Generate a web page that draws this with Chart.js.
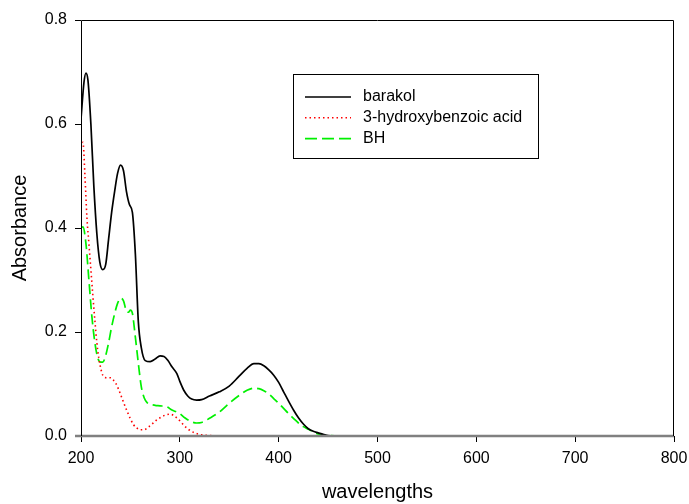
<!DOCTYPE html>
<html>
<head>
<meta charset="utf-8">
<script src="https://cdn.jsdelivr.net/npm/chart.js@4/dist/chart.umd.min.js"></script>
<style>
    html, body { margin: 0; padding: 0; background: #fff; }
    #wrap { width: 689px; height: 504px; position: relative; }
</style>
</head>
<body>
<div id="wrap"><canvas id="chart"></canvas></div>
<script>
// Spectra (wavelength in nm, absorbance)
const barakolNm = [200, 203, 205, 207, 210, 213, 216, 219, 222, 225, 228, 231, 234, 237, 240, 243, 246, 249, 252, 255, 258, 261, 265, 270, 275, 280, 284, 288, 292, 297, 300, 304, 308, 312, 317, 322, 330, 340, 350, 360, 368, 375, 380, 385, 390, 395, 400, 405, 410, 415, 420, 425, 430, 435, 440, 445, 450, 460, 500, 600, 700, 800];
const barakolAbs = [0.61, 0.68, 0.698, 0.685, 0.60, 0.48, 0.39, 0.335, 0.32, 0.33, 0.38, 0.43, 0.47, 0.505, 0.521, 0.51, 0.47, 0.445, 0.43, 0.35, 0.22, 0.17, 0.145, 0.143, 0.148, 0.154, 0.153, 0.145, 0.133, 0.12, 0.105, 0.088, 0.077, 0.071, 0.069, 0.070, 0.077, 0.085, 0.096, 0.115, 0.13, 0.139, 0.139, 0.135, 0.127, 0.117, 0.103, 0.085, 0.067, 0.05, 0.035, 0.023, 0.014, 0.009, 0.006, 0.003, 0.001, 0, 0, 0, 0, 0];

const acidNm = [200, 202, 204, 206, 208, 210, 212, 214, 216, 218, 220, 222, 226, 230, 233, 235, 238, 241, 244, 247, 250, 253, 256, 260, 264, 268, 272, 276, 280, 285, 290, 294, 298, 302, 306, 310, 315, 320, 330, 340, 500, 600, 700, 800];
const acidAbs = [0.555, 0.565, 0.50, 0.42, 0.37, 0.32, 0.27, 0.223, 0.18, 0.15, 0.13, 0.117, 0.112, 0.112, 0.107, 0.102, 0.09, 0.075, 0.06, 0.046, 0.033, 0.022, 0.016, 0.012, 0.012, 0.017, 0.023, 0.03, 0.035, 0.04, 0.042, 0.039, 0.033, 0.025, 0.017, 0.011, 0.006, 0.003, 0.001, 0, 0, 0, 0, 0];

const bhNm = [200, 202, 205, 208, 211, 214, 217, 220, 222, 225, 228, 231, 234, 237, 240, 243, 246, 248, 250, 252, 255, 258, 261, 264, 267, 270, 275, 280, 287, 292, 297, 300, 305, 310, 317, 322, 330, 340, 350, 360, 368, 375, 380, 385, 390, 395, 400, 405, 410, 415, 420, 425, 430, 435, 440, 445, 450, 460, 500, 600, 700, 800];
const bhAbs = [0.40, 0.402, 0.37, 0.30, 0.23, 0.18, 0.15, 0.142, 0.142, 0.155, 0.18, 0.21, 0.235, 0.255, 0.265, 0.26, 0.24, 0.238, 0.242, 0.236, 0.19, 0.14, 0.095, 0.073, 0.064, 0.061, 0.059, 0.058, 0.056, 0.05, 0.046, 0.043, 0.035, 0.029, 0.025, 0.026, 0.034, 0.046, 0.063, 0.078, 0.088, 0.092, 0.091, 0.087, 0.081, 0.072, 0.063, 0.053, 0.043, 0.034, 0.025, 0.018, 0.013, 0.008, 0.004, 0.002, 0.001, 0, 0, 0, 0, 0];

const seriesNames = ['barakol', '3-hydroxybenzoic acid', 'BH'];
const xTicks = [200, 300, 400, 500, 600, 700, 800];
const yTicks = [0.0, 0.2, 0.4, 0.6, 0.8];

const FONT = 'Arial, "Liberation Sans", sans-serif';

function toPoints(xs, ys) {
    return xs.map((x, i) => ({ x: x, y: ys[i] }));
}

// Frame, grey zero line and boxed legend drawn over the data
const framePlugin = {
    id: 'frame',
    afterDatasetsDraw(chart) {
        const { ctx, chartArea: a } = chart;
        ctx.save();
        // grey zero line
        ctx.strokeStyle = '#808080';
        ctx.lineWidth = 2.5;
        ctx.beginPath();
        ctx.moveTo(a.left - 6, a.bottom);
        ctx.lineTo(a.right, a.bottom);
        ctx.stroke();
        // black frame (left, top, right)
        ctx.strokeStyle = '#000';
        ctx.lineWidth = 1;
        ctx.beginPath();
        ctx.moveTo(a.left + 0.5, a.bottom);
        ctx.lineTo(a.left + 0.5, a.top + 0.5);
        ctx.lineTo(a.right - 0.5, a.top + 0.5);
        ctx.lineTo(a.right - 0.5, a.bottom);
        ctx.stroke();

        // legend box
        const bx = 293, by = 74, bw = 245, bh = 84;
        ctx.strokeStyle = '#000';
        ctx.lineWidth = 1;
        ctx.strokeRect(bx + 0.5, by + 0.5, bw, bh);
        ctx.font = '16px ' + FONT;
        ctx.textBaseline = 'middle';
        ctx.fillStyle = '#000';
        chart.data.datasets.forEach((ds, i) => {
            const yy = by + 23 + i * 20.8;
            ctx.strokeStyle = ds.borderColor;
            ctx.lineWidth = ds.borderWidth;
            ctx.setLineDash(ds.legendDash || ds.borderDash || []);
            ctx.beginPath();
            ctx.moveTo(305, yy);
            ctx.lineTo(351, yy);
            ctx.stroke();
            ctx.setLineDash([]);
            ctx.fillText(ds.label, 363, yy);
        });
        ctx.restore();
    }
};

new Chart(document.getElementById('chart'), {
    type: 'line',
    data: {
        datasets: [
            {
                label: seriesNames[0],
                data: toPoints(barakolNm, barakolAbs),
                borderColor: '#000000',
                borderWidth: 1.7
            },
            {
                label: seriesNames[1],
                data: toPoints(acidNm, acidAbs),
                borderColor: '#ff0000',
                borderWidth: 1.6,
                borderDash: [1.5, 3]
            },
            {
                label: seriesNames[2],
                data: toPoints(bhNm, bhAbs),
                borderColor: '#00f000',
                borderWidth: 1.7,
                borderDash: [10, 5],
                legendDash: [12, 5]
            }
        ]
    },
    options: {
        responsive: true,
        maintainAspectRatio: false,
        animation: false,
        layout: { padding: { top: 20, right: 15, left: 0, bottom: 0 } },
        elements: {
            point: { radius: 0 },
            line: { cubicInterpolationMode: 'monotone', fill: false }
        },
        plugins: {
            legend: { display: false },
            tooltip: { enabled: false }
        },
        scales: {
            x: {
                type: 'linear',
                min: 200,
                max: 800,
                afterFit: (s) => { s.height = 68; s.paddingLeft = 0; s.paddingRight = 0; },
                afterBuildTicks: (s) => { s.ticks = xTicks.map(v => ({ value: v })); },
                ticks: {
                    color: '#000',
                    font: { family: FONT, size: 16 },
                    padding: 7,
                    maxRotation: 0
                },
                grid: { drawOnChartArea: false, drawTicks: true, tickLength: 6, color: '#000' },
                border: { display: false },
                title: {
                    display: true,
                    text: 'wavelengths',
                    color: '#000',
                    font: { family: FONT, size: 20 },
                    padding: { top: 0, bottom: 0 }
                }
            },
            y: {
                min: 0,
                max: 0.8,
                afterFit: (s) => { s.width = 81; s.paddingTop = 0; s.paddingBottom = 0; },
                afterBuildTicks: (s) => { s.ticks = yTicks.map(v => ({ value: v })); },
                ticks: {
                    color: '#000',
                    font: { family: FONT, size: 16 },
                    padding: 8,
                    callback: (v) => v.toFixed(1)
                },
                grid: { drawOnChartArea: false, drawTicks: true, tickLength: 6, color: '#000' },
                border: { display: false },
                title: {
                    display: true,
                    text: 'Absorbance',
                    color: '#000',
                    font: { family: FONT, size: 20 },
                    padding: { top: 8, bottom: 0 }
                }
            }
        }
    },
    plugins: [framePlugin]
});
</script>
</body>
</html>
